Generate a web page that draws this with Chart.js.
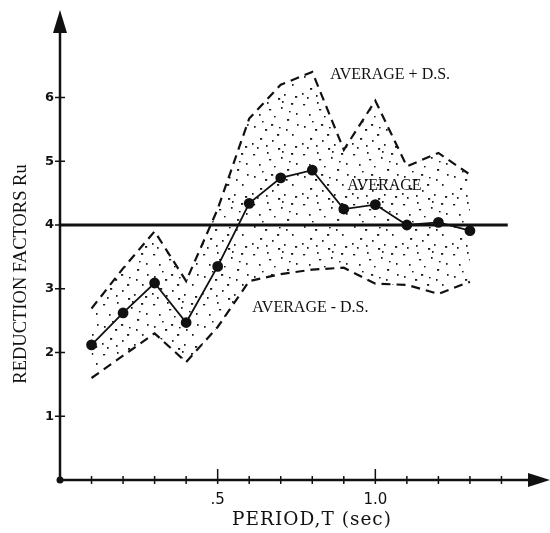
<!DOCTYPE html>
<html>
<head>
<meta charset="utf-8">
<script src="https://cdn.jsdelivr.net/npm/chart.js@4.4.0/dist/chart.umd.min.js"></script>
<style>
html, body { margin: 0; padding: 0; background: #fff; }
#wrap { width: 550px; height: 533px; }
</style>
</head>
<body>
<div id="wrap"><canvas id="myChart"></canvas></div>
<script>
// period T (sec) of each point
var periods = [0.1, 0.2, 0.3, 0.4, 0.5, 0.6, 0.7, 0.8, 0.9, 1.0, 1.1, 1.2, 1.3];
// reduction factors Ru
var average       = [2.12, 2.62, 3.09, 2.47, 3.35, 4.34, 4.74, 4.86, 4.25, 4.32, 4.00, 4.04, 3.91];
var averagePlusDs = [2.69, 3.32, 3.90, 3.12, 4.25, 5.67, 6.20, 6.40, 5.18, 5.95, 4.92, 5.13, 4.79];
var averageMinDs  = [1.60, 1.95, 2.30, 1.85, 2.40, 3.12, 3.23, 3.30, 3.33, 3.08, 3.06, 2.92, 3.11];
var refLevel = [4, 4];
var refPeriods = [0, 1.42];

var xTicks = [0.1, 0.2, 0.3, 0.4, 0.5, 0.6, 0.7, 0.8, 0.9, 1.0, 1.1, 1.2, 1.3, 1.4];
var xTickText = ['', '', '', '', '.5', '', '', '', '', '1.0', '', '', '', ''];
var yTicks = [1, 2, 3, 4, 5, 6];

function pts(xs, ys) {
    return xs.map(function (x, i) { return { x: x, y: ys[i] }; });
}

// stippled fill between the two dashed curves
function makeStipple() {
    var c = document.createElement('canvas');
    c.width = 50; c.height = 50;
    var g = c.getContext('2d');
    g.fillStyle = '#1a1a1a';
    var dots = [[3,4],[17,2],[31,7],[41,3],[9,14],[24,16],[37,19],[47,24],
                [4,26],[15,29],[29,27],[42,34],[10,38],[22,40],[34,44],
                [19,9],[46,13],[2,43],[27,34],[36,29],[12,21],[45,46],
                [7,47],[32,1],[21,24],[39,11],[16,45],[28,48]];
    dots.forEach(function (d, i) {
        var w = (i % 3 === 0) ? 2.2 : 1.6;
        g.fillRect(d[0], d[1], w, (i % 5 === 0) ? 1.4 : 1.8);
    });
    return g.createPattern(c, 'repeat');
}

var INK = '#111';

var decor = {
    id: 'decor',
    afterDraw: function (chart) {
        var ctx = chart.ctx;
        var xs = chart.scales.x, ys = chart.scales.y;
        var x0 = xs.getPixelForValue(0), y0 = ys.getPixelForValue(0);
        ctx.save();
        ctx.strokeStyle = INK;
        ctx.fillStyle = INK;
        ctx.lineCap = 'butt';
        // axes
        ctx.lineWidth = 2.5;
        ctx.beginPath();
        ctx.moveTo(x0, y0 + 1);
        ctx.lineTo(x0, 30);
        ctx.moveTo(x0 - 1, y0);
        ctx.lineTo(532, y0);
        ctx.stroke();
        // arrow heads
        ctx.beginPath();
        ctx.moveTo(x0, 10); ctx.lineTo(x0 - 7, 33); ctx.lineTo(x0 + 7, 33); ctx.closePath();
        ctx.fill();
        ctx.beginPath();
        ctx.moveTo(550, y0); ctx.lineTo(528, y0 - 7); ctx.lineTo(528, y0 + 7); ctx.closePath();
        ctx.fill();
        // tick marks
        ctx.lineWidth = 1.5;
        ctx.beginPath();
        yTicks.forEach(function (v) {
            var p = ys.getPixelForValue(v);
            ctx.moveTo(x0 - 5, p); ctx.lineTo(x0 + 5, p);
        });
        xTicks.forEach(function (v, i) {
            var p = xs.getPixelForValue(v);
            ctx.moveTo(p, y0 + 4); ctx.lineTo(p, xTickText[i] ? y0 - 11 : y0 - 4);
        });
        ctx.stroke();
        ctx.beginPath();
        ctx.arc(x0, y0, 3.5, 0, Math.PI * 2);
        ctx.fill();

        // curve labels
        ctx.font = '16px "Liberation Serif"';
        ctx.textBaseline = 'middle';
        ctx.textAlign = 'left';
        ctx.fillText('AVERAGE + D.S.', xs.getPixelForValue(0.857), ys.getPixelForValue(6.36));
        ctx.fillText('AVERAGE', xs.getPixelForValue(0.911), ys.getPixelForValue(4.61));
        ctx.fillText('AVERAGE - D.S.', xs.getPixelForValue(0.610), ys.getPixelForValue(2.70));

        // axis titles
        ctx.textAlign = 'center';
        ctx.font = '18.5px "DejaVu Serif"';
        ctx.letterSpacing = '1px';
        ctx.fillText('PERIOD,T (sec)', 312, 520);
        ctx.letterSpacing = '0px';
        ctx.font = '18.5px "Liberation Serif"';
        ctx.translate(21, 274);
        ctx.rotate(-Math.PI / 2);
        ctx.fillText('REDUCTION FACTORS Ru', 0, 0);
        ctx.restore();
    }
};

var stipple = makeStipple();

new Chart(document.getElementById('myChart'), {
    type: 'line',
    data: {
        datasets: [
            {
                label: 'Average + D.S.',
                data: pts(periods, averagePlusDs),
                borderColor: INK,
                borderWidth: 2.2,
                borderDash: [9, 6],
                pointRadius: 0,
                tension: 0,
                fill: '+1',
                backgroundColor: stipple
            },
            {
                label: 'Average - D.S.',
                data: pts(periods, averageMinDs),
                borderColor: INK,
                borderWidth: 2.2,
                borderDash: [9, 6],
                pointRadius: 0,
                tension: 0,
                fill: false
            },
            {
                label: 'Average',
                data: pts(periods, average),
                borderColor: INK,
                borderWidth: 1.8,
                pointRadius: 4.5,
                pointBackgroundColor: INK,
                pointBorderColor: INK,
                tension: 0,
                fill: false
            },
            {
                label: 'Ru = 4',
                data: pts(refPeriods, refLevel),
                borderColor: INK,
                borderWidth: 3,
                pointRadius: 0,
                fill: false
            }
        ]
    },
    options: {
        responsive: true,
        maintainAspectRatio: false,
        animation: false,
        layout: { padding: { top: 12, right: 17, left: 0, bottom: 0 } },
        plugins: {
            legend: { display: false },
            tooltip: { enabled: false },
            filler: { drawTime: 'beforeDatasetsDraw' }
        },
        scales: {
            x: {
                type: 'linear',
                min: 0,
                max: 1.5,
                grid: { display: false, drawTicks: false },
                border: { display: false },
                afterFit: function (s) { s.height = 53; },
                afterBuildTicks: function (s) { s.ticks = xTicks.map(function (v) { return { value: v }; }); },
                ticks: {
                    autoSkip: false,
                    maxRotation: 0,
                    padding: 11,
                    color: INK,
                    font: { family: 'DejaVu Sans', size: 15 },
                    callback: function (v, i) { return xTickText[i]; }
                }
            },
            y: {
                min: 0,
                max: 7.3125,
                grid: { display: false, drawTicks: false },
                border: { display: false },
                afterFit: function (s) { s.width = 60; },
                afterBuildTicks: function (s) { s.ticks = yTicks.map(function (v) { return { value: v }; }); },
                ticks: {
                    padding: 6,
                    color: INK,
                    font: { family: 'DejaVu Sans', size: 13, weight: 'bold' },
                    callback: function (v) { return String(v); }
                }
            }
        }
    },
    plugins: [decor]
});
</script>
</body>
</html>
